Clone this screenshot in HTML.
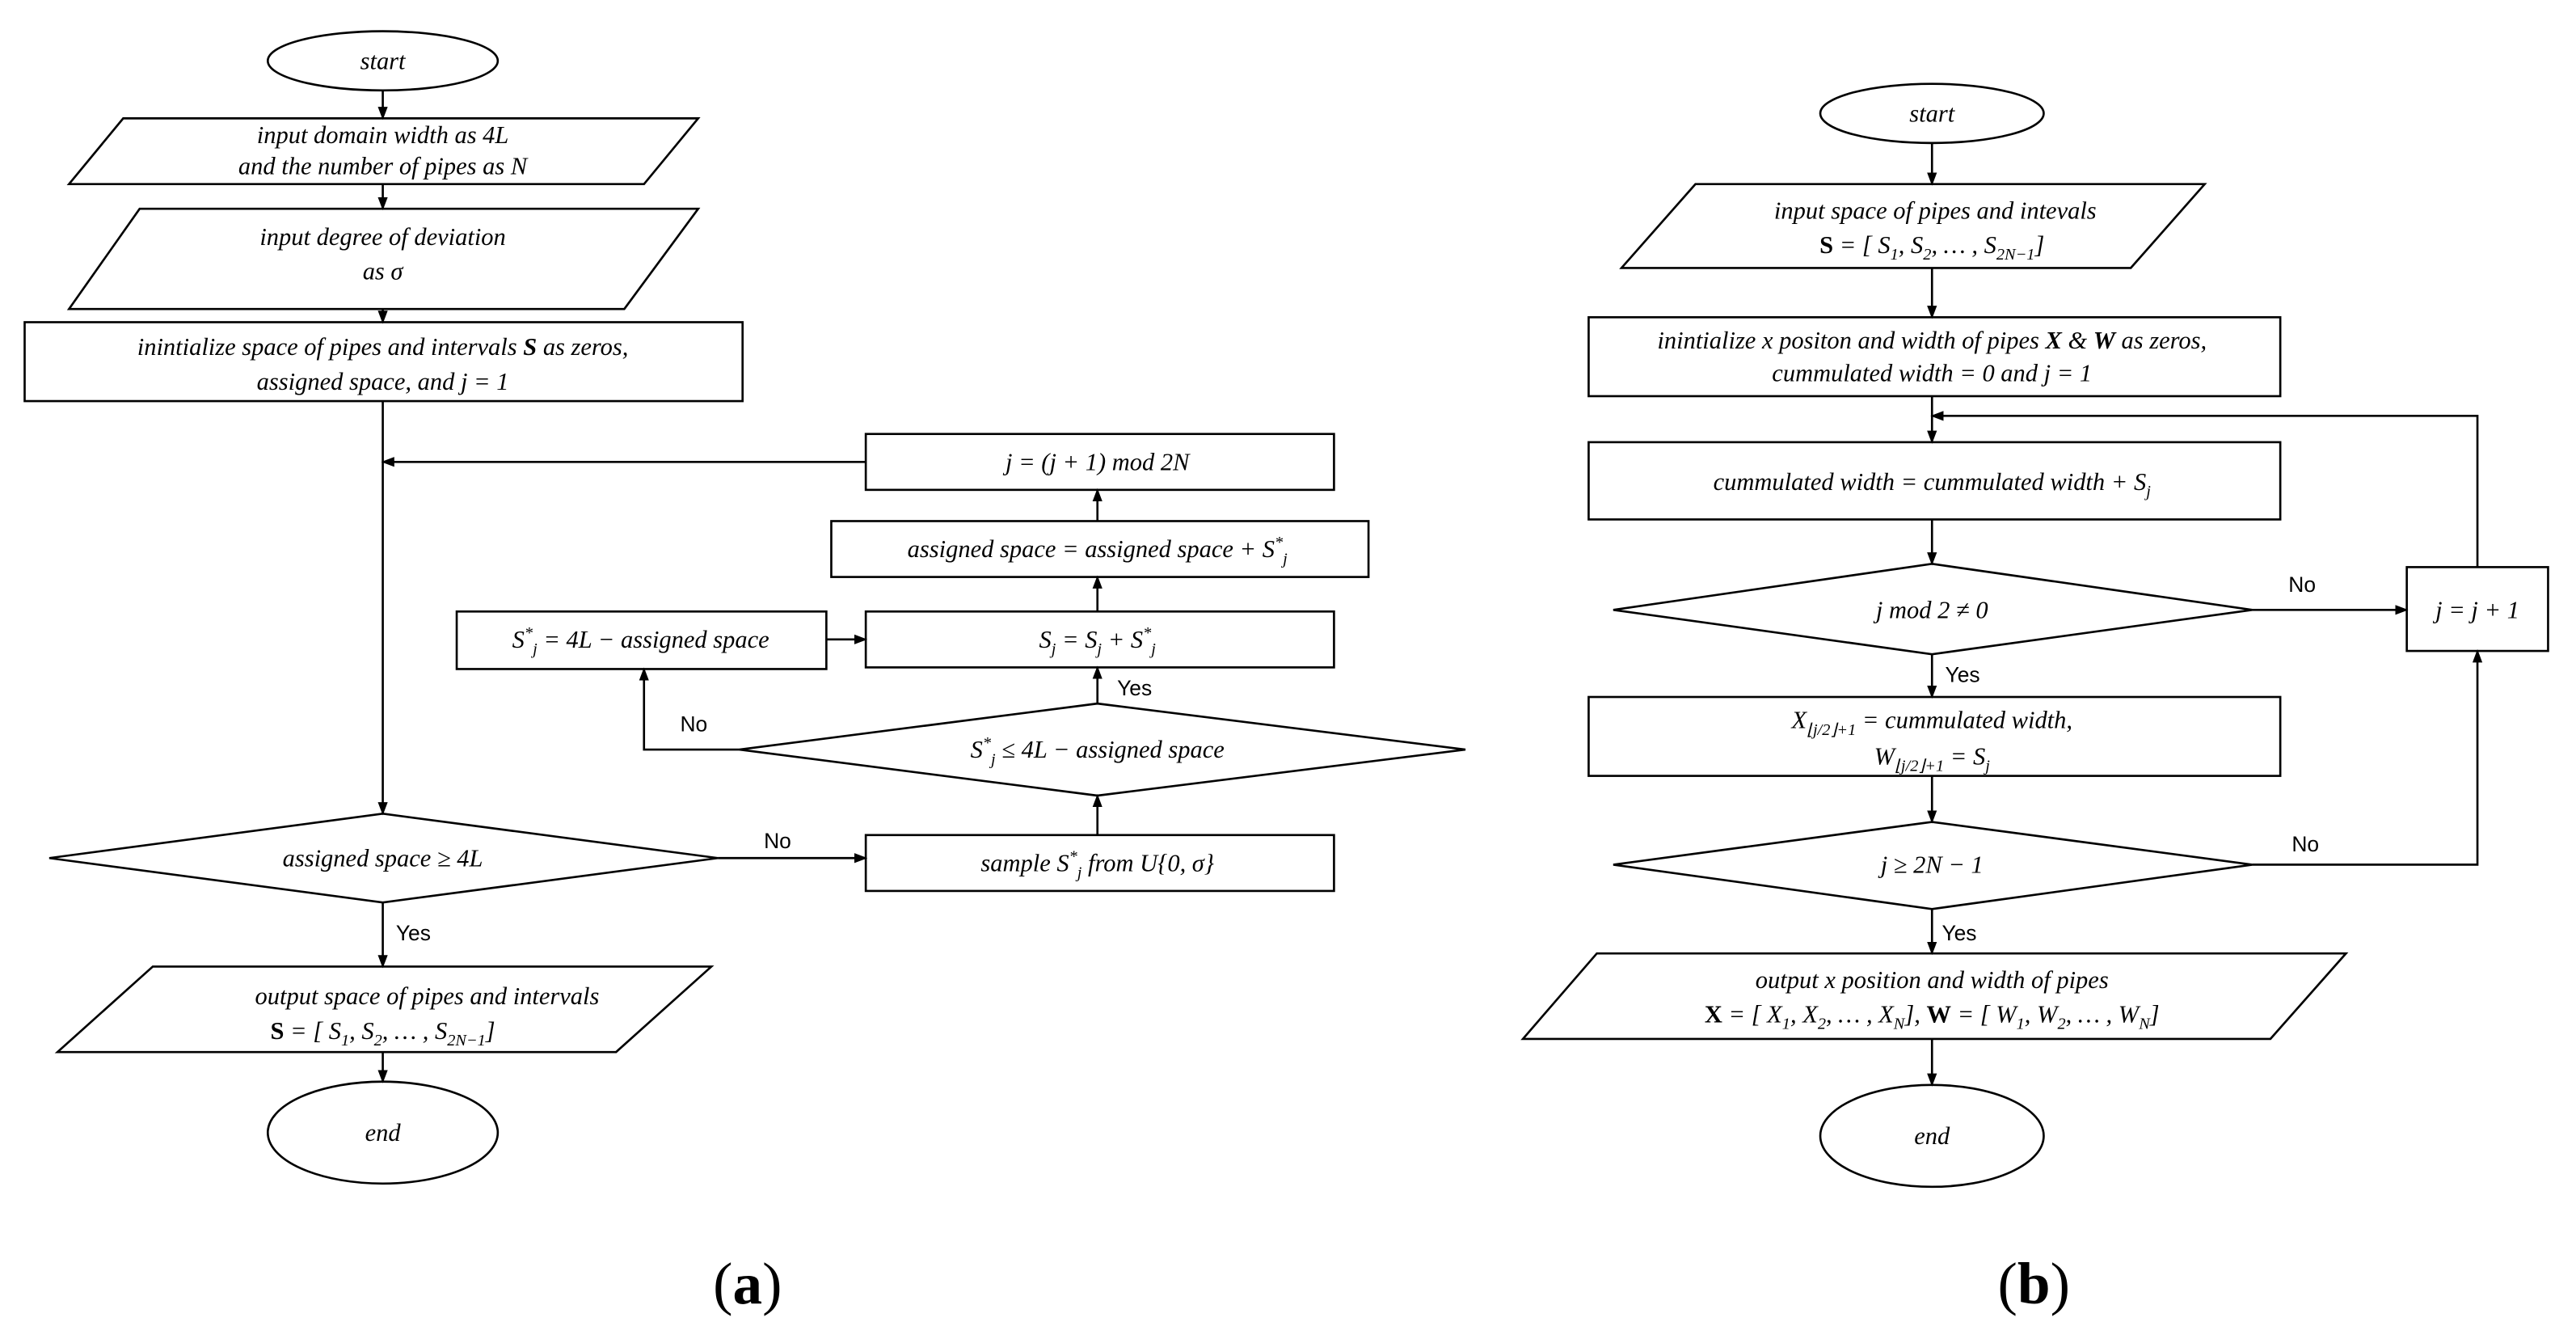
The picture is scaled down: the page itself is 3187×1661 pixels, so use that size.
<!DOCTYPE html>
<html><head><meta charset="utf-8"><style>
html,body{margin:0;padding:0;background:#fff;}
svg{display:block;}
text{font-family:"Liberation Serif",serif;font-style:italic;font-size:15px;fill:#000;}
.s{font-family:"Liberation Sans",sans-serif;font-style:normal;font-size:13px;}
.b{font-style:normal;font-weight:bold;}
.big{font-style:normal;font-size:36px;font-family:"Liberation Serif",serif;}
</style></head><body>
<svg width="3187" height="1661" viewBox="0 0 1568 817" preserveAspectRatio="none" xmlns="http://www.w3.org/2000/svg">
<defs><marker id="a" markerWidth="8" markerHeight="8" refX="7" refY="4" orient="auto" markerUnits="userSpaceOnUse"><path d="M0,1 L8,4 L0,7 z" fill="#000"/></marker></defs>
<g fill="none" stroke="#000" stroke-width="1.3">
<!-- (a) -->
<ellipse cx="233" cy="37" rx="70" ry="18"/>
<polygon points="75,72 425,72 392,112 42,112"/>
<polygon points="85,127 425,127 380,188 42,188"/>
<rect x="15" y="196" width="437" height="48"/>
<polygon points="30,522 233,495 437,522 233,549"/>
<rect x="527" y="508" width="285" height="34"/>
<polygon points="450,456 668,428 892,456 668,484"/>
<rect x="278" y="372" width="225" height="35"/>
<rect x="527" y="372" width="285" height="34"/>
<rect x="506" y="317" width="327" height="34"/>
<rect x="527" y="264" width="285" height="34"/>
<polygon points="93,588 433,588 375,640 35,640"/>
<ellipse cx="233" cy="689" rx="70" ry="31"/>
<g marker-end="url(#a)">
<line x1="233" y1="55" x2="233" y2="72"/>
<line x1="233" y1="112" x2="233" y2="127"/>
<line x1="233" y1="188" x2="233" y2="196"/>
<line x1="233" y1="244" x2="233" y2="495"/>
<line x1="527" y1="281" x2="233" y2="281"/>
<line x1="437" y1="522" x2="527" y2="522"/>
<line x1="668" y1="508" x2="668" y2="484"/>
<line x1="668" y1="428" x2="668" y2="406"/>
<polyline points="450,456 392,456 392,407"/>
<line x1="503" y1="389" x2="527" y2="389"/>
<line x1="668" y1="372" x2="668" y2="351"/>
<line x1="668" y1="317" x2="668" y2="298"/>
<line x1="233" y1="549" x2="233" y2="588"/>
<line x1="233" y1="640" x2="233" y2="658"/>
</g>
<!-- (b) -->
<ellipse cx="1176" cy="69" rx="68" ry="18"/>
<polygon points="1032,112 1342,112 1297,163 987,163"/>
<rect x="967" y="193" width="421" height="48"/>
<rect x="967" y="269" width="421" height="47"/>
<polygon points="982,371 1176,343 1371,371 1176,398"/>
<rect x="1465" y="345" width="86" height="51"/>
<rect x="967" y="424" width="421" height="48"/>
<polygon points="982,526 1176,500 1371,526 1176,553"/>
<polygon points="972,580 1428,580 1382,632 927,632"/>
<ellipse cx="1176" cy="691" rx="68" ry="31"/>
<g marker-end="url(#a)">
<line x1="1176" y1="87" x2="1176" y2="112"/>
<line x1="1176" y1="163" x2="1176" y2="193"/>
<line x1="1176" y1="241" x2="1176" y2="269"/>
<polyline points="1508,345 1508,253 1176,253"/>
<line x1="1176" y1="316" x2="1176" y2="343"/>
<line x1="1371" y1="371" x2="1465" y2="371"/>
<line x1="1176" y1="398" x2="1176" y2="424"/>
<line x1="1176" y1="472" x2="1176" y2="500"/>
<polyline points="1371,526 1508,526 1508,396"/>
<line x1="1176" y1="553" x2="1176" y2="580"/>
<line x1="1176" y1="632" x2="1176" y2="660"/>
</g>
</g>
<g text-anchor="middle">
<text x="233" y="42">start</text>
<text x="233" y="87">input domain width  as 4L</text>
<text x="233" y="106">and the number of pipes as N</text>
<text x="233" y="149">input degree of deviation</text>
<text x="233" y="170">as σ</text>
<text x="233" y="216">inintialize space of pipes and intervals <tspan font-weight="bold">S</tspan> as zeros,</text>
<text x="233" y="237">assigned space, and  j  = 1</text>
<text x="233" y="527">assigned space  ≥  4L</text>
<text x="668" y="530">sample S<tspan dy="-6" font-size="10">*</tspan><tspan dy="10" font-size="10">j</tspan><tspan dy="-4"> from U{0, σ}</tspan></text>
<text x="668" y="461">S<tspan dy="-6" font-size="10">*</tspan><tspan dy="10" font-size="10">j</tspan><tspan dy="-4">  ≤  4L − assigned space</tspan></text>
<text x="390" y="394">S<tspan dy="-6" font-size="10">*</tspan><tspan dy="10" font-size="10">j</tspan><tspan dy="-4"> =  4L − assigned space</tspan></text>
<text x="668" y="394">S<tspan dy="4" font-size="10">j</tspan><tspan dy="-4"> = S</tspan><tspan dy="4" font-size="10">j</tspan><tspan dy="-4"> + S</tspan><tspan dy="-6" font-size="10">*</tspan><tspan dy="10" font-size="10">j</tspan></text>
<text x="668" y="339">assigned space = assigned space + S<tspan dy="-6" font-size="10">*</tspan><tspan dy="10" font-size="10">j</tspan></text>
<text x="668" y="286">j  =  (j + 1) mod 2N</text>
<text x="260" y="611">output space of pipes and intervals</text>
<text x="233" y="632"><tspan class="b">S</tspan> = [ S<tspan dy="4" font-size="10">1</tspan><tspan dy="-4">, S</tspan><tspan dy="4" font-size="10">2</tspan><tspan dy="-4">, … , S</tspan><tspan dy="4" font-size="10">2N−1</tspan><tspan dy="-4">]</tspan></text>
<text x="233" y="694">end</text>
<text x="1176" y="74">start</text>
<text x="1178" y="133">input space of pipes and intevals</text>
<text x="1176" y="154"><tspan class="b">S</tspan> = [ S<tspan dy="4" font-size="10">1</tspan><tspan dy="-4">, S</tspan><tspan dy="4" font-size="10">2</tspan><tspan dy="-4">, … , S</tspan><tspan dy="4" font-size="10">2N−1</tspan><tspan dy="-4">]</tspan></text>
<text x="1176" y="212">inintialize x positon and width of pipes <tspan font-weight="bold">X</tspan> &amp; <tspan font-weight="bold">W</tspan> as zeros,</text>
<text x="1176" y="232">cummulated width = 0 and  j  = 1</text>
<text x="1176" y="298">cummulated width = cummulated width + S<tspan dy="4" font-size="10">j</tspan></text>
<text x="1176" y="376">j mod 2  ≠ 0</text>
<text x="1508" y="376">j = j + 1</text>
<text x="1176" y="443">X<tspan dy="4" font-size="10">⌊j/2⌋+1</tspan><tspan dy="-4"> = cummulated width,</tspan></text>
<text x="1176" y="465">W<tspan dy="4" font-size="10">⌊j/2⌋+1</tspan><tspan dy="-4"> = S</tspan><tspan dy="4" font-size="10">j</tspan></text>
<text x="1176" y="531">j ≥ 2N − 1</text>
<text x="1176" y="601">output x position and width of pipes</text>
<text x="1176" y="622"><tspan class="b">X</tspan> = [ X<tspan dy="4" font-size="10">1</tspan><tspan dy="-4">, X</tspan><tspan dy="4" font-size="10">2</tspan><tspan dy="-4">, … , X</tspan><tspan dy="4" font-size="10">N</tspan><tspan dy="-4">], </tspan><tspan class="b">W</tspan> = [ W<tspan dy="4" font-size="10">1</tspan><tspan dy="-4">, W</tspan><tspan dy="4" font-size="10">2</tspan><tspan dy="-4">, … , W</tspan><tspan dy="4" font-size="10">N</tspan><tspan dy="-4">]</tspan></text>
<text x="1176" y="696">end</text>
<text class="big" x="455" y="793">(<tspan font-weight="bold">a</tspan>)</text>
<text class="big" x="1238" y="793">(<tspan font-weight="bold">b</tspan>)</text>
</g>
<g>
<text class="s" x="465" y="516">No</text>
<text class="s" x="241" y="572">Yes</text>
<text class="s" x="680" y="423">Yes</text>
<text class="s" x="414" y="445">No</text>
<text class="s" x="1393" y="360">No</text>
<text class="s" x="1184" y="415">Yes</text>
<text class="s" x="1395" y="518">No</text>
<text class="s" x="1182" y="572">Yes</text>
</g>
</svg>
</body></html>
